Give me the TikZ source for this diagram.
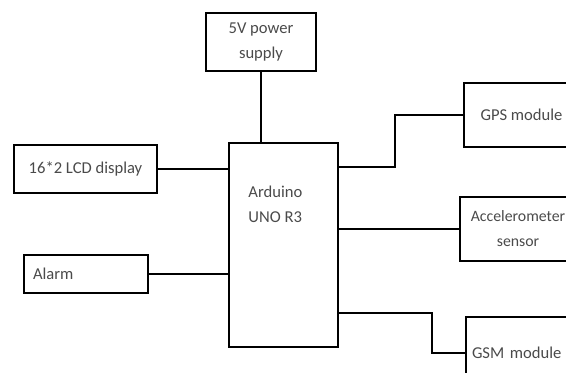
\documentclass[tikz,border=0pt]{standalone}
\usepackage{fontspec}
\setmainfont{Carlito}
\usetikzlibrary{positioning}
\definecolor{labelgray}{HTML}{4A4A4A}

\begin{document}
\begin{tikzpicture}[x=0.5pt,y=-0.5pt, every node/.style={font=\fontsize{8.3}{12.5}\selectfont,text=labelgray},
 box/.style={draw=black,line width=1.3pt,inner sep=2.5pt,align=center},
 wire/.style={line width=1.3pt}]
\useasboundingbox (0,0) rectangle (566,372);
\clip (0,0) rectangle (566,372);
\node[box,minimum width=55pt,minimum height=29pt] (power) at (261,42) {5V power\\supply};
\node[box,minimum width=54.5pt,minimum height=102pt] (arduino) at (283.5,245) {};
\node[anchor=north west,inner sep=0pt,align=left] (ardtxt) at (248,186) {Arduino\\UNO R3};
\node[box,minimum width=71.5pt,minimum height=24pt] (lcd) at (85.5,169) {16*2 LCD display};
\node[box,minimum height=19pt,text width=53pt,inner xsep=4.5pt,align=left] (alarm) at (86,274) {Alarm};
\node[box,minimum width=57.5pt,minimum height=32pt] (gps) at (521.5,115) {GPS module};
\node[box,minimum width=58pt,minimum height=32pt,inner xsep=1pt,font=\fontsize{7.9}{12.5}\selectfont] (accel) at (518,229) {Accelerometer\\sensor};
\node[box,minimum height=36pt,text width=51pt,inner xsep=3pt,align=left] (gsm) at (523,353) {GSM module};
\coordinate (gpsbend) at (395,167);
\coordinate (gsmbend) at (432,313);
\draw[wire] (power.south) -- (power.south |- arduino.north);
\draw[wire] (lcd.east) -- (lcd.east -| arduino.west); \draw[wire] (alarm.east) -- (alarm.east -| arduino.west);
\draw[wire] (gpsbend -| arduino.east) -- (gpsbend) |- (gps.west);
\draw[wire] (accel.west -| arduino.east) -- (accel.west);
\draw[wire] (gsmbend -| arduino.east) -- (gsmbend) |- (gsm.west);
\end{tikzpicture}
\end{document}
